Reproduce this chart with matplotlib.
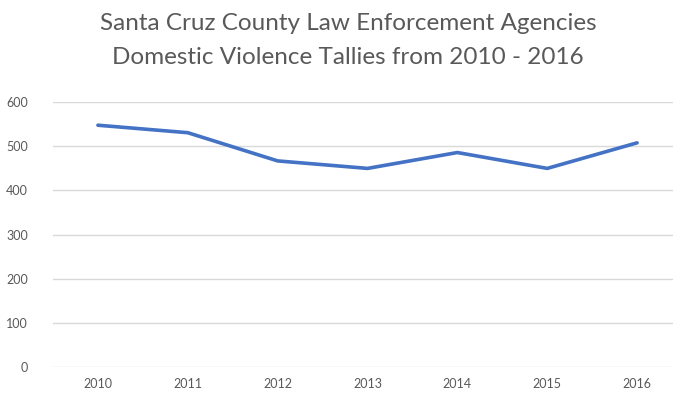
import matplotlib
matplotlib.use("Agg")
import matplotlib.pyplot as plt

years = ["2010", "2011", "2012", "2013", "2014", "2015", "2016"]
tallies = [548, 531, 467, 450, 486, 450, 508]
y_ticks = [0, 100, 200, 300, 400, 500, 600]

plt.rcParams['font.family'] = ['Lato', 'DejaVu Sans']

fig = plt.figure(figsize=(6.73, 3.98), dpi=100)
ax = fig.add_axes([53/673, 31.3/398, 629/673, 264.4/398])

x = list(range(len(years)))
ax.plot(x, tallies, color="#4472C4", linewidth=2.6, solid_capstyle="round", zorder=3)

ax.set_xlim(-0.5, len(years) - 0.5)
ax.set_ylim(0, 600)
ax.set_yticks(y_ticks)
ax.set_yticklabels([str(v) for v in y_ticks])
ax.set_xticks(x)
ax.set_xticklabels(years)
ax.grid(axis="y", color="#D9D9D9", linewidth=1.0)
ax.set_axisbelow(True)
for s in ax.spines.values():
    s.set_visible(False)
ax.tick_params(axis="both", length=0, labelsize=9, labelcolor="#595959")
ax.tick_params(axis="y", pad=18)
ax.tick_params(axis="x", pad=8)

fig.text(0.517, 0.898, "Santa Cruz County Law Enforcement Agencies\nDomestic Violence Tallies from 2010 - 2016",
         ha="center", va="center", fontsize=17.5, color="#595959", linespacing=1.76)

fig.savefig("out.png", dpi=100)
